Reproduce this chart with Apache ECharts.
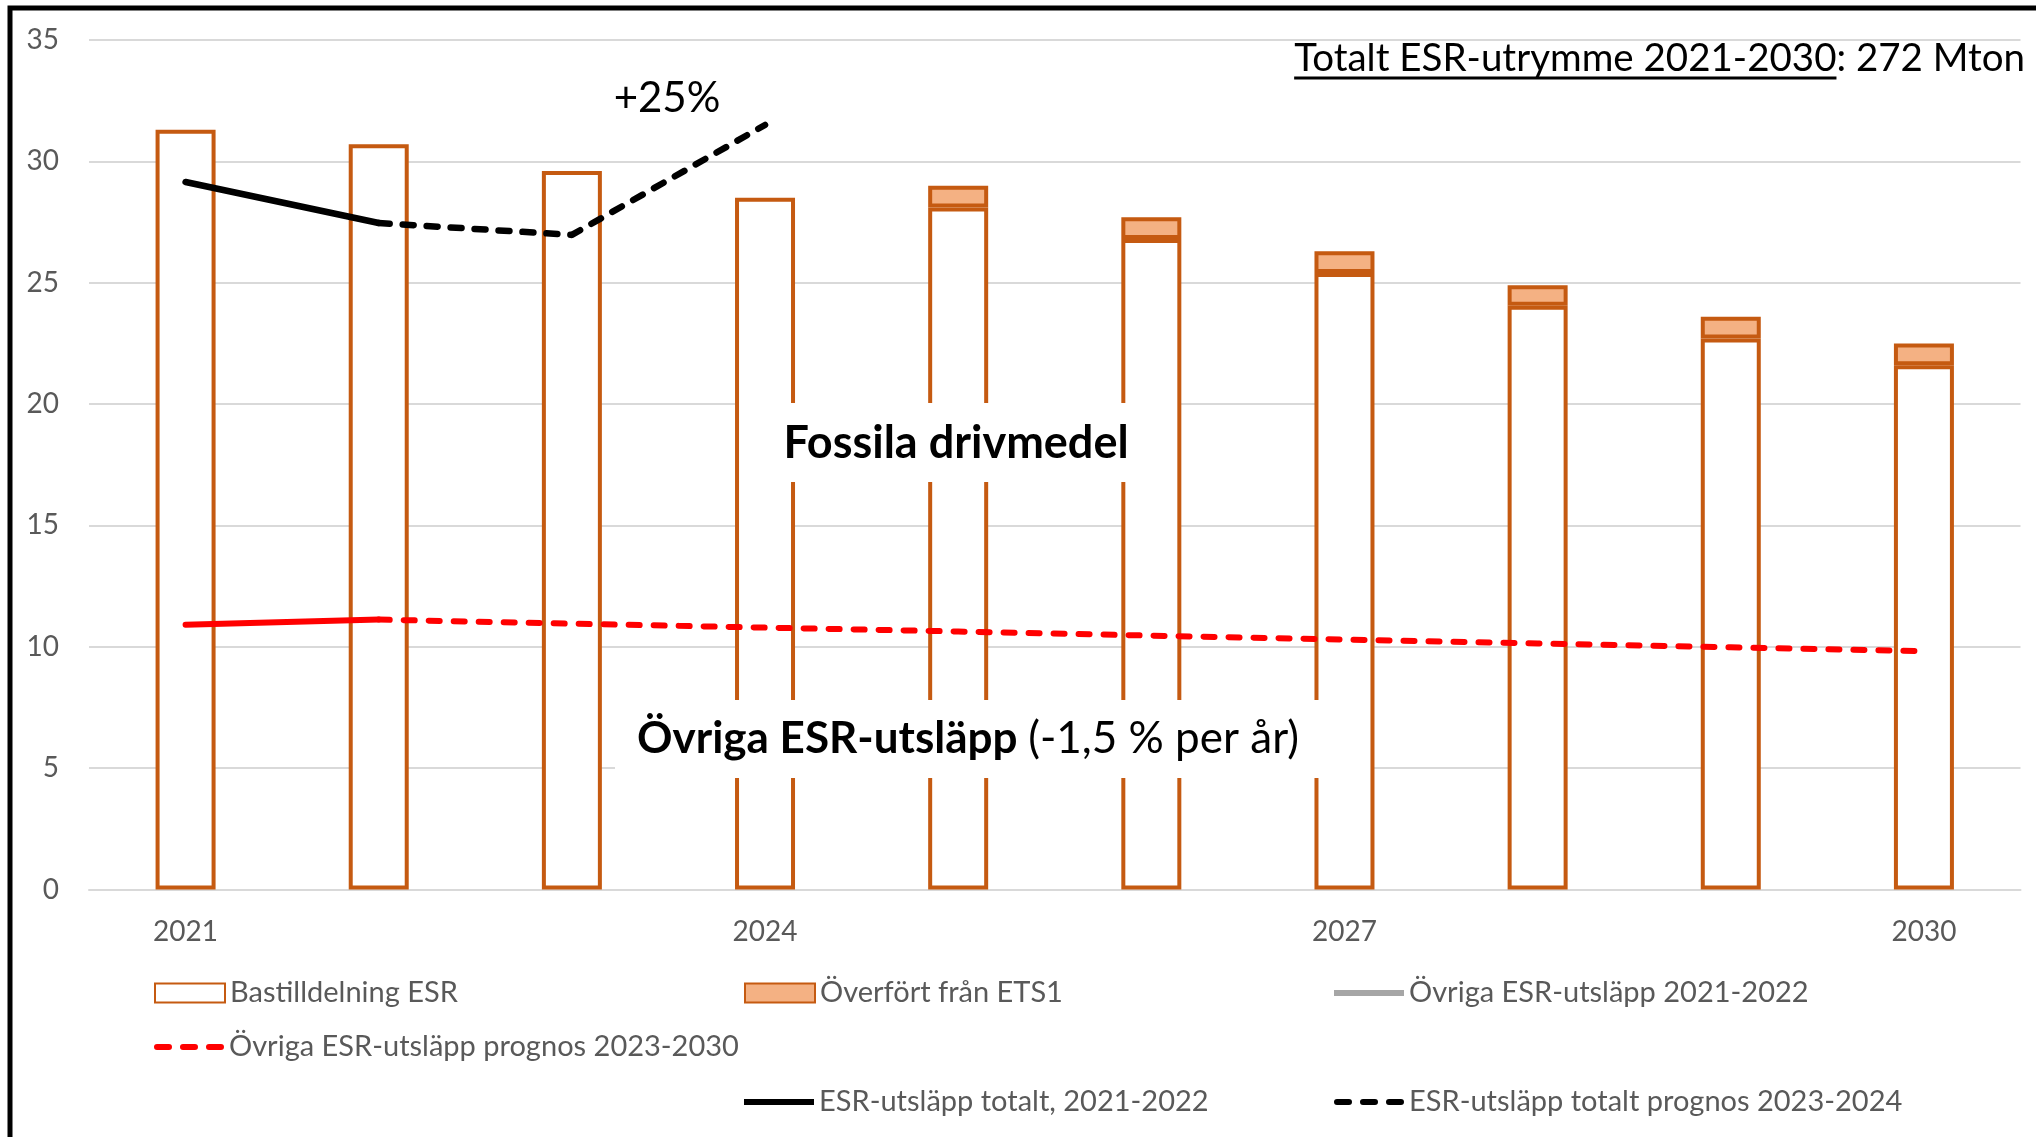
<!DOCTYPE html>
<html>
<head>
<meta charset="utf-8">
<title>ESR-utrymme 2021-2030</title>
<script src="https://cdn.jsdelivr.net/npm/echarts@6/dist/echarts.min.js"></script>
<style>
  html, body { margin: 0; padding: 0; background: #fff; }
  #main { width: 2036px; height: 1137px; }
</style>
</head>
<body>
<div id="main"></div>
<script>
// data (Mton CO2e)
var years = ['2021', '2022', '2023', '2024', '2025', '2026', '2027', '2028', '2029', '2030'];
var bastilldelning = [31.3, 30.7, 29.6, 28.5, 28.1, 26.8, 25.4, 24.05, 22.7, 21.6];
var overfortEts1 = [null, null, null, null, 0.9, 0.9, 0.9, 0.85, 0.9, 0.9];
var ovrigaUtfall = [10.91, 11.12, null, null, null, null, null, null, null, null];
var ovrigaPrognos = [null, 11.12, 10.95, 10.79, 10.63, 10.46, 10.30, 10.14, 9.98, 9.82];
var totaltUtfall = [29.15, 27.46, null, null, null, null, null, null, null, null];
var totaltPrognos = [null, 27.46, 26.97, 31.5, null, null, null, null, null, null];

var ORANGE = '#c55a11';
var FONT = 'Lato';
var GREY_TXT = '#595959';

// legend icon: three rounded dashes
var DASH_ICON = 'path://M3,0h12a3,3 0 0 1 0,6h-12a3,3 0 0 1 0,-6z' +
                'M29,0h12a3,3 0 0 1 0,6h-12a3,3 0 0 1 0,-6z' +
                'M55,0h12a3,3 0 0 1 0,6h-12a3,3 0 0 1 0,-6z';

var chart = echarts.init(document.getElementById('main'));

// measure text for the underline under the heading
function textWidth(str, font) {
  var c = document.createElement('canvas').getContext('2d');
  c.font = font;
  return c.measureText(str).width;
}
var headFont = 38.5;
var headRight = 2025;
var headFull = 'Totalt ESR-utrymme 2021-2030: 272 Mton';
var headUnder = 'Totalt ESR-utrymme 2021-2030';
var wFull = textWidth(headFull, headFont + 'px ' + FONT);
var wUnder = textWidth(headUnder, headFont + 'px ' + FONT);
var headLeft = headRight - wFull;

function oneLegend(item, left, cy, iconH) {
  return {
    data: [item],
    left: left,
    top: cy - 15,
    padding: 0,
    itemWidth: 70,
    itemHeight: iconH,
    selectedMode: false,
    textStyle: { color: GREY_TXT, fontSize: 29, fontFamily: FONT, lineHeight: 30 }
  };
}

chart.setOption({
  animation: false,
  backgroundColor: '#fff',
  grid: { left: 89, right: 15.5, top: 40, bottom: 247.5 },
  legend: [
    oneLegend({ name: 'Bastilldelning ESR', icon: 'rect' }, 154, 993, 19),
    oneLegend({ name: 'Överfört från ETS1', icon: 'rect' }, 744, 993, 19),
    oneLegend({ name: 'Övriga ESR-utsläpp 2021-2022', icon: 'rect',
                itemStyle: { color: '#a6a6a6' } }, 1334, 993, 6),
    oneLegend({ name: 'Övriga ESR-utsläpp prognos 2023-2030', icon: DASH_ICON }, 154, 1047, 6),
    oneLegend({ name: 'ESR-utsläpp totalt, 2021-2022', icon: 'rect' }, 744, 1102, 6),
    oneLegend({ name: 'ESR-utsläpp totalt prognos 2023-2024', icon: DASH_ICON }, 1334, 1102, 6)
  ],
  xAxis: {
    type: 'category',
    data: years,
    axisTick: { show: false },
    axisLine: { lineStyle: { color: '#d9d9d9', width: 2 } },
    axisLabel: { interval: 2, margin: 28, color: GREY_TXT, fontSize: 28, fontFamily: FONT }
  },
  yAxis: {
    type: 'value',
    min: 0,
    max: 35,
    interval: 5,
    axisLine: { show: false },
    axisTick: { show: false },
    splitLine: { lineStyle: { color: '#d9d9d9', width: 2 } },
    axisLabel: { margin: 30, color: GREY_TXT, fontSize: 28, fontFamily: FONT }
  },
  series: [
    {
      name: 'Bastilldelning ESR',
      type: 'bar',
      stack: 'esr',
      barWidth: 60,
      itemStyle: { color: '#ffffff', borderColor: ORANGE, borderWidth: 4 },
      data: bastilldelning
    },
    {
      name: 'Överfört från ETS1',
      type: 'bar',
      stack: 'esr',
      barWidth: 60,
      itemStyle: { color: '#f4b183', borderColor: ORANGE, borderWidth: 4 },
      data: overfortEts1
    },
    {
      name: 'Övriga ESR-utsläpp 2021-2022',
      type: 'line',
      symbol: 'none',
      z: 5,
      lineStyle: { color: '#ff0000', width: 6, cap: 'round' },
      itemStyle: { color: '#ff0000' },
      data: ovrigaUtfall
    },
    {
      name: 'Övriga ESR-utsläpp prognos 2023-2030',
      type: 'line',
      symbol: 'none',
      z: 5,
      lineStyle: { color: '#ff0000', width: 6, type: [11, 14], cap: 'round' },
      itemStyle: { color: '#ff0000' },
      data: ovrigaPrognos
    },
    {
      name: 'ESR-utsläpp totalt, 2021-2022',
      type: 'line',
      symbol: 'none',
      z: 5,
      lineStyle: { color: '#000000', width: 6.5, cap: 'round' },
      itemStyle: { color: '#000000' },
      data: totaltUtfall
    },
    {
      name: 'ESR-utsläpp totalt prognos 2023-2024',
      type: 'line',
      symbol: 'none',
      z: 5,
      lineStyle: { color: '#000000', width: 6.5, type: [11, 13], cap: 'round' },
      itemStyle: { color: '#000000' },
      data: totaltPrognos
    }
  ],
  graphic: [
    // frame (only top and left visible)
    { type: 'rect', z: 100, shape: { x: 10, y: 8, width: 2200, height: 1300 },
      style: { fill: 'none', stroke: '#000', lineWidth: 5 } },
    // heading top right
    { type: 'text', z: 100, x: headRight, y: 59,
      style: { text: headFull, fontSize: headFont, fontFamily: FONT, fill: '#000',
               align: 'right', verticalAlign: 'middle' } },
    { type: 'line', z: 100, shape: { x1: headLeft, y1: 78, x2: headLeft + wUnder, y2: 78 },
      style: { stroke: '#000', lineWidth: 3 } },
    // +25%
    { type: 'text', z: 100, x: 667, y: 98,
      style: { text: '+25%', fontSize: 42, fontFamily: FONT, fill: '#000',
               align: 'center', verticalAlign: 'middle' } },
    // Fossila drivmedel
    { type: 'rect', z: 90, shape: { x: 747, y: 403, width: 417, height: 79 },
      style: { fill: '#fff' } },
    { type: 'text', z: 100, x: 956, y: 443,
      style: { text: 'Fossila drivmedel', fontSize: 45, fontWeight: 'bold', fontFamily: FONT,
               fill: '#000', align: 'center', verticalAlign: 'middle' } },
    // Övriga ESR-utsläpp
    { type: 'rect', z: 90, shape: { x: 615, y: 700, width: 720, height: 78 },
      style: { fill: '#fff' } },
    { type: 'text', z: 100, x: 637, y: 739,
      style: {
        text: '{b|Övriga ESR-utsläpp }{n|(-1,5 % per år)}',
        align: 'left', verticalAlign: 'middle',
        rich: {
          b: { fontSize: 44, fontWeight: 'bold', fontFamily: FONT, fill: '#000' },
          n: { fontSize: 44, fontFamily: FONT, fill: '#000' }
        }
      } }
  ]
});
</script>
</body>
</html>
